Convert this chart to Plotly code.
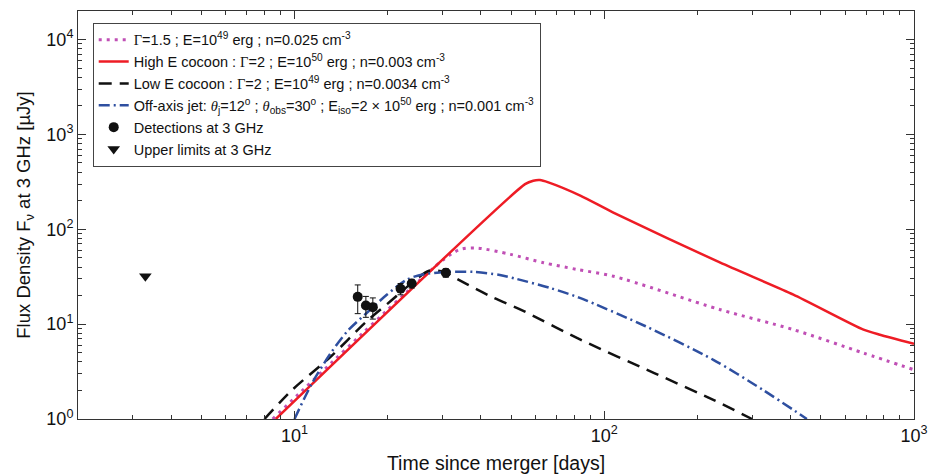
import plotly.graph_objects as go
import math

# ---------------- data ----------------
# Gamma=1.5 ; E=1e49 erg ; n=0.025 (magenta dotted)
t_g15 = [8.5, 30.3, 34.3, 38.8, 49.8, 63.7, 81.7, 107, 237, 408, 687, 1000]
f_g15 = [1.0, 48, 61.4, 63.4, 54.4, 44.4, 37.7, 32, 14.2, 8.75, 4.96, 3.3]

# High E cocoon (red solid)
t_high = [8.7, 55.5, 59, 62, 66, 84, 107, 237, 408, 687, 776, 1000]
f_high = [1.0, 299, 325, 330, 312, 225, 150, 44.4, 20.5, 8.75, 7.74, 6.2]

# Low E cocoon (black dashed)
t_low = [8.0, 9.84, 13.1, 17.1, 20.4, 24.5, 27.2, 30.3, 33.8, 38.8, 44, 55, 83.8, 145, 225, 300]
f_low = [1.0, 2.03, 4.56, 10.7, 17.4, 29, 36.5, 35.5, 29.5, 23.2, 18.9, 13.7, 6.86, 3.05, 1.59, 1.0]

# Off-axis jet (blue dash-dot)
t_jet = [10.0, 11.4, 13.1, 14.8, 17.1, 19.9, 23.1, 26.1, 31, 38, 46, 52, 67, 83, 136, 225, 325, 451]
f_jet = [1.0, 2.39, 4.96, 8.4, 13.1, 20.5, 29.6, 33.5, 35.5, 35.5, 33, 30, 24, 19, 9.5, 4.21, 2.03, 1.0]

# Detections at 3 GHz
det_t = [16.0, 17.0, 17.9, 22.0, 23.9, 30.8]
det_f = [19.4, 15.7, 15.1, 23.6, 26.8, 34.8]
det_err = [6.5, 3.9, 3.8, 3.2, 2.8, 3.6]

# Upper limits at 3 GHz
ul_t = [3.3]
ul_f = [32]

x_tickvals = [10, 100, 1000]
x_ticktext = ["10<sup>1</sup>", "10<sup>2</sup>", "10<sup>3</sup>"]
y_tickvals = [1, 10, 100, 1000, 10000]
y_ticktext = ["10<sup>0</sup>", "10<sup>1</sup>", "10<sup>2</sup>", "10<sup>3</sup>", "10<sup>4</sup>"]

G = "<span style='font-family:Liberation Serif'>Γ</span>"
TH = "<span style='font-family:Liberation Serif'><i>θ</i></span>"
names = [
    f"{G}=1.5 ; E=10<sup>49</sup> erg ; n=0.025 cm<sup>-3</sup>",
    f"High E cocoon : {G}=2 ; E=10<sup>50</sup> erg ; n=0.003 cm<sup>-3</sup>",
    f"Low E cocoon : {G}=2 ; E=10<sup>49</sup> erg ; n=0.0034 cm<sup>-3</sup>",
    f"Off-axis jet: {TH}<sub>j</sub>=12<sup>o</sup> ; {TH}<sub>obs</sub>=30<sup>o</sup> ; E<sub>iso</sub>=2 × 10<sup>50</sup> erg ; n=0.001 cm<sup>-3</sup>",
    "Detections at 3 GHz",
    "Upper limits at 3 GHz",
]

SM = 0.8
fig = go.Figure()
fig.add_trace(go.Scatter(x=t_g15, y=f_g15, mode="lines", name=names[0], legendgroup="a",
                         line=dict(color="#C04FB5", width=3, dash="3px,5px", shape="spline", smoothing=SM)))
fig.add_trace(go.Scatter(x=t_high, y=f_high, mode="lines", name=names[1], legendgroup="b",
                         line=dict(color="#EE1C25", width=2.5, shape="spline", smoothing=0.6)))
fig.add_trace(go.Scatter(x=t_low, y=f_low, mode="lines", name=names[2], legendgroup="c",
                         line=dict(color="#111111", width=2.5, dash="13px,8px", shape="spline", smoothing=SM)))
fig.add_trace(go.Scatter(x=t_jet, y=f_jet, mode="lines", name=names[3], legendgroup="d",
                         line=dict(color="#2E4FA0", width=2.5, dash="11px,4px,2px,4px", shape="spline", smoothing=SM)))
fig.add_trace(go.Scatter(x=det_t, y=det_f, mode="markers", name=names[4], legendgroup="e",
                         marker=dict(color="#111111", size=10, symbol="circle"),
                         error_y=dict(type="data", array=det_err, color="#111111",
                                      thickness=1, width=3)))
fig.add_trace(go.Scatter(x=ul_t, y=ul_f, mode="markers", name=names[5], legendgroup="f",
                         marker=dict(color="#111111", size=11, symbol="triangle-down")))

minor_vals = [m * 10 ** d for d in range(0, 5) for m in range(2, 10)]

axis_common = dict(
    type="log", showgrid=False, zeroline=False, automargin=False,
    showline=True, linecolor="#333333", linewidth=1, mirror="ticks",
    ticks="inside", ticklen=8, tickwidth=1, tickcolor="#333333",
    tickfont=dict(family="Liberation Sans, Arial", size=18, color="#111111"),
    minor=dict(tickmode="array", tickvals=minor_vals, ticks="inside",
               ticklen=4, tickwidth=1, tickcolor="#333333", showgrid=False),
)

fig.update_xaxes(**axis_common, range=[math.log10(2), 3],
                 tickmode="array", tickvals=x_tickvals, ticktext=x_ticktext,
                 title=dict(text="Time since merger [days]", standoff=11,
                            font=dict(family="Liberation Sans, Arial", size=19.5, color="#111111")))
fig.update_yaxes(**axis_common, range=[0, math.log10(2e4)],
                 tickmode="array", tickvals=y_tickvals, ticktext=y_ticktext,
                 title=dict(text="Flux Density F<sub>ν</sub> at 3 GHz [µJy]", standoff=10,
                            font=dict(family="Liberation Sans, Arial", size=18.5, color="#111111")))

fig.update_layout(
    width=937, height=476,
    margin=dict(l=78, r=23, t=11, b=57, autoexpand=False),
    paper_bgcolor="white", plot_bgcolor="white",
    font=dict(family="Liberation Sans, Arial", color="#111111"),
    legend=dict(x=0.0176, y=0.971, xanchor="left", yanchor="top",
                bgcolor="white", bordercolor="#444444", borderwidth=1,
                font=dict(family="Liberation Sans, Arial", size=14.5, color="#111111"),
                traceorder="grouped", tracegroupgap=0, itemwidth=30),
    showlegend=True,
)

fig.write_html("out.html", config={"displayModeBar": False},
               post_script="document.body.style.margin='0px';")
